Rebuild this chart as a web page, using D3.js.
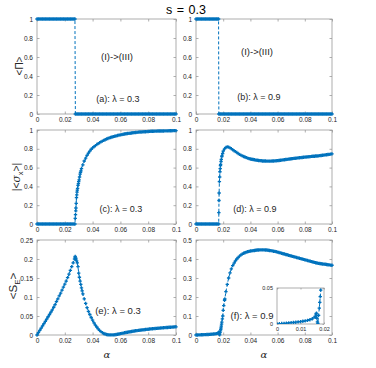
<!DOCTYPE html>
<html>
<head>
<meta charset="utf-8">
<script src="https://cdn.jsdelivr.net/npm/d3@7"></script>
<style>
  body { margin: 0; background: #fff; }
  svg { display: block; }
  text { font-family: "Liberation Sans", Arial, sans-serif; }
</style>
</head>
<body>
<svg id="chart" width="376" height="368"></svg>
<script>
// alpha grid (x values of every series)
const alphaGrid = [
  0, 0.001, 0.002, 0.003, 0.004, 0.005, 0.006, 0.007, 0.008, 0.009,
  0.01, 0.011, 0.012, 0.013, 0.014, 0.015, 0.016, 0.017, 0.018, 0.019,
  0.02, 0.021, 0.022, 0.023, 0.024, 0.025, 0.026, 0.027, 0.028, 0.029,
  0.03, 0.031, 0.032, 0.033, 0.034, 0.035, 0.036, 0.037, 0.038, 0.039,
  0.04, 0.041, 0.042, 0.043, 0.044, 0.045, 0.046, 0.047, 0.048, 0.049,
  0.05, 0.051, 0.052, 0.053, 0.054, 0.055, 0.056, 0.057, 0.058, 0.059,
  0.06, 0.061, 0.062, 0.063, 0.064, 0.065, 0.066, 0.067, 0.068, 0.069,
  0.07, 0.071, 0.072, 0.073, 0.074, 0.075, 0.076, 0.077, 0.078, 0.079,
  0.08, 0.081, 0.082, 0.083, 0.084, 0.085, 0.086, 0.087, 0.088, 0.089,
  0.09, 0.091, 0.092, 0.093, 0.094, 0.095, 0.096, 0.097, 0.098, 0.099,
  0.1
];

// (a) <Pi>, lambda = 0.3
const piL03 = [
  1, 1, 1, 1, 1, 1, 1, 1, 1, 1,
  1, 1, 1, 1, 1, 1, 1, 1, 1, 1,
  1, 1, 1, 1, 1, 1, 1, 1, 0, 0,
  0, 0, 0, 0, 0, 0, 0, 0, 0, 0,
  0, 0, 0, 0, 0, 0, 0, 0, 0, 0,
  0, 0, 0, 0, 0, 0, 0, 0, 0, 0,
  0, 0, 0, 0, 0, 0, 0, 0, 0, 0,
  0, 0, 0, 0, 0, 0, 0, 0, 0, 0,
  0, 0, 0, 0, 0, 0, 0, 0, 0, 0,
  0, 0, 0, 0, 0, 0, 0, 0, 0, 0,
  0
];
const piL03Extra = [[0.0273, 1], [0.0276, 0]];

// (b) <Pi>, lambda = 0.9
const piL09 = [
  1, 1, 1, 1, 1, 1, 1, 1, 1, 1,
  1, 1, 1, 1, 1, 1, 1, 0, 0, 0,
  0, 0, 0, 0, 0, 0, 0, 0, 0, 0,
  0, 0, 0, 0, 0, 0, 0, 0, 0, 0,
  0, 0, 0, 0, 0, 0, 0, 0, 0, 0,
  0, 0, 0, 0, 0, 0, 0, 0, 0, 0,
  0, 0, 0, 0, 0, 0, 0, 0, 0, 0,
  0, 0, 0, 0, 0, 0, 0, 0, 0, 0,
  0, 0, 0, 0, 0, 0, 0, 0, 0, 0,
  0, 0, 0, 0, 0, 0, 0, 0, 0, 0,
  0
];
const piL09Extra = [[0.0166, 1], [0.0168, 0]];

// (c) |<sigma_x>|, lambda = 0.3
const sxL03 = [
  0, 0, 0, 0, 0, 0, 0, 0, 0, 0,
  0, 0, 0, 0, 0, 0, 0, 0, 0, 0,
  0, 0, 0, 0, 0, 0, 0, 0, 0.17, 0.36,
  0.45, 0.53, 0.59, 0.63, 0.67, 0.70, 0.73, 0.755, 0.775, 0.795,
  0.81, 0.822, 0.834, 0.845, 0.855, 0.865, 0.874, 0.882, 0.89, 0.897,
  0.904, 0.91, 0.916, 0.921, 0.926, 0.93, 0.934, 0.938, 0.942, 0.945,
  0.948, 0.951, 0.954, 0.957, 0.96, 0.962, 0.964, 0.966, 0.968, 0.97,
  0.972, 0.974, 0.975, 0.977, 0.978, 0.979, 0.98, 0.981, 0.982, 0.983,
  0.984, 0.985, 0.986, 0.987, 0.987, 0.988, 0.988, 0.989, 0.989, 0.99,
  0.99, 0.99, 0.991, 0.991, 0.991, 0.992, 0.992, 0.992, 0.993, 0.993,
  0.993
];
const sxL03Extra = [
  [0.0273, 0], [0.0275, 0.06], [0.0277, 0.1], [0.0279, 0.14], [0.0282, 0.22],
  [0.0284, 0.28], [0.0286, 0.31], [0.0288, 0.34], [0.0292, 0.38], [0.0295, 0.41],
  [0.0298, 0.43], [0.0303, 0.47], [0.0306, 0.5], [0.0313, 0.55], [0.0316, 0.565]
];

// (d) |<sigma_x>|, lambda = 0.9
const sxL09 = [
  0, 0, 0, 0, 0, 0, 0, 0, 0, 0,
  0, 0, 0, 0, 0, 0, 0, 0.33, 0.62, 0.718,
  0.775, 0.80, 0.815, 0.82, 0.818, 0.81, 0.80, 0.79, 0.78, 0.77,
  0.76, 0.75, 0.741, 0.733, 0.725, 0.718, 0.712, 0.706, 0.701, 0.696,
  0.692, 0.689, 0.686, 0.683, 0.68, 0.678, 0.676, 0.674, 0.673, 0.671,
  0.67, 0.67, 0.669, 0.669, 0.669, 0.669, 0.67, 0.671, 0.672, 0.673,
  0.674, 0.676, 0.678, 0.68, 0.682, 0.684, 0.686, 0.688, 0.69, 0.692,
  0.694, 0.696, 0.698, 0.70, 0.701, 0.703, 0.705, 0.706, 0.708, 0.71,
  0.711, 0.713, 0.714, 0.716, 0.717, 0.719, 0.72, 0.721, 0.723, 0.724,
  0.725, 0.727, 0.729, 0.731, 0.733, 0.735, 0.737, 0.739, 0.741, 0.743,
  0.746
];
const sxL09Extra = [
  [0.0167, 0], [0.0168, 0.12], [0.0169, 0.25], [0.0172, 0.45], [0.0174, 0.5],
  [0.0176, 0.556], [0.0178, 0.59], [0.0181, 0.634], [0.0184, 0.665], [0.0186, 0.687],
  [0.0191, 0.725], [0.0196, 0.75]
];

// (e) <S_E>, lambda = 0.3
const seL03 = [
  0, 0.006, 0.012, 0.018, 0.024, 0.03, 0.036, 0.042, 0.048, 0.054,
  0.06, 0.066, 0.073, 0.08, 0.088, 0.095, 0.103, 0.11, 0.118, 0.126,
  0.134, 0.142, 0.151, 0.16, 0.17, 0.18, 0.19, 0.2, 0.2, 0.19,
  0.163, 0.142, 0.124, 0.108, 0.095, 0.083, 0.072, 0.062, 0.054, 0.046,
  0.039, 0.032, 0.026, 0.021, 0.016, 0.012, 0.009, 0.006, 0.004, 0.0025,
  0.0015, 0.0008, 0.0004, 0.0002, 0.0002, 0.0004, 0.0008, 0.0013, 0.002, 0.0027,
  0.0035, 0.0043, 0.005, 0.0058, 0.0065, 0.0072, 0.0079, 0.0086, 0.0092, 0.0098,
  0.0104, 0.011, 0.0116, 0.0121, 0.0126, 0.0131, 0.0136, 0.014, 0.0145, 0.0149,
  0.0153, 0.0157, 0.0161, 0.0165, 0.0168, 0.0172, 0.0175, 0.0178, 0.0181, 0.0184,
  0.0187, 0.019, 0.0193, 0.0196, 0.0199, 0.0202, 0.0205, 0.0208, 0.021, 0.0213,
  0.0216
];
const seL03Extra = [
  [0.0273, 0.205], [0.0275, 0.207], [0.0278, 0.203], [0.0285, 0.195], [0.0295, 0.18],
  [0.0305, 0.152], [0.0315, 0.133], [0.0325, 0.116]
];

// (f) <S_E>, lambda = 0.9
const seL09 = [
  0, 0.0003, 0.0006, 0.0009, 0.0012, 0.0015, 0.0018, 0.0021, 0.0025, 0.0029,
  0.0033, 0.0038, 0.0044, 0.0051, 0.006, 0.0072, 0.0095, 0.008, 0.022, 0.068,
  0.13, 0.183, 0.228, 0.266, 0.3, 0.327, 0.348, 0.365, 0.378, 0.39,
  0.40, 0.408, 0.415, 0.421, 0.426, 0.43, 0.433, 0.436, 0.438, 0.44,
  0.442, 0.443, 0.444, 0.445, 0.446, 0.447, 0.447, 0.448, 0.448, 0.448,
  0.448, 0.447, 0.447, 0.446, 0.445, 0.444, 0.443, 0.441, 0.44, 0.438,
  0.436, 0.434, 0.432, 0.43, 0.428, 0.426, 0.424, 0.422, 0.42, 0.418,
  0.416, 0.414, 0.412, 0.41, 0.408, 0.406, 0.404, 0.402, 0.40, 0.398,
  0.396, 0.394, 0.392, 0.39, 0.388, 0.386, 0.384, 0.382, 0.38, 0.379,
  0.377, 0.376, 0.375, 0.374, 0.373, 0.372, 0.371, 0.37, 0.369, 0.368,
  0.367
];
const seL09Extra = [
  [0.0163, 0.011], [0.0166, 0.014], [0.0168, 0.015], [0.0172, 0.003], [0.0174, 0.001],
  [0.0177, 0.012], [0.0182, 0.03], [0.0184, 0.038], [0.0186, 0.047], [0.0188, 0.057],
  [0.0194, 0.085], [0.0197, 0.1], [0.0204, 0.155], [0.0212, 0.19]
];

// ticks
const xTicks = [0, 0.02, 0.04, 0.06, 0.08, 0.1];
const xTickLabels = ['0', '0.02', '0.04', '0.06', '0.08', '0.1'];
const unitTicks = [0, 0.2, 0.4, 0.6, 0.8, 1];
const unitTickLabels = ['0', '0.2', '0.4', '0.6', '0.8', '1'];
const seTicksA = [0, 0.05, 0.1, 0.15, 0.2, 0.25];
const seTickLabelsA = ['0', '0.05', '0.1', '0.15', '0.2', '0.25'];
const seTicksB = [0, 0.1, 0.2, 0.3, 0.4, 0.5];
const seTickLabelsB = ['0', '0.1', '0.2', '0.3', '0.4', '0.5'];
const insetXTicks = [0, 0.01, 0.02];
const insetXTickLabels = ['0', '0.01', '0.02'];
const insetYTicks = [0, 0.05];
const insetYTickLabels = ['0', '0.05'];

const blue = '#0072BD';
const axisColor = '#9a9a9a';
const textColor = '#262626';
const svg = d3.select('#chart');

function mergeSeries(values, extra) {
  const pts = alphaGrid.map((a, i) => [a, values[i]]).concat(extra);
  pts.sort((p, q) => p[0] - q[0]);
  return pts;
}

function styleAxis(g, fontSize) {
  g.select('.domain').remove();
  g.selectAll('.tick line').attr('stroke', axisColor).attr('stroke-width', 0.8);
  g.selectAll('.tick text').attr('fill', textColor).style('font-size', fontSize + 'px');
}

function drawPanel(p) {
  const x = d3.scaleLinear().domain(p.xDomain).range([p.left, p.right]);
  const y = d3.scaleLinear().domain(p.yDomain).range([p.bottom, p.top]);
  const g = svg.append('g');
  const fs = p.tickFont || 6.5;
  const tl = p.tickLen || 2.5;

  if (p.fill) {
    g.append('rect')
        .attr('x', p.left).attr('y', p.top)
        .attr('width', p.right - p.left).attr('height', p.bottom - p.top)
        .attr('fill', '#fff');
  }

  g.append('g')
      .attr('transform', `translate(0,${p.bottom})`)
      .call(d3.axisBottom(x).tickValues(p.xTicks).tickSize(-tl).tickPadding(3.5)
          .tickFormat((d, i) => p.xTickLabels[i]))
      .call(a => styleAxis(a, fs));
  g.append('g')
      .attr('transform', `translate(0,${p.top})`)
      .call(d3.axisTop(x).tickValues(p.xTicks).tickSize(-tl).tickFormat(''))
      .call(a => styleAxis(a, fs));
  g.append('g')
      .attr('transform', `translate(${p.left},0)`)
      .call(d3.axisLeft(y).tickValues(p.yTicks).tickSize(-tl).tickPadding(4)
          .tickFormat((d, i) => p.yTickLabels[i]))
      .call(a => styleAxis(a, fs));
  g.append('g')
      .attr('transform', `translate(${p.right},0)`)
      .call(d3.axisRight(y).tickValues(p.yTicks).tickSize(-tl).tickFormat(''))
      .call(a => styleAxis(a, fs));

  g.append('rect')
      .attr('x', p.left).attr('y', p.top)
      .attr('width', p.right - p.left).attr('height', p.bottom - p.top)
      .attr('fill', 'none').attr('stroke', axisColor).attr('stroke-width', 0.8);

  const plot = g.append('g');
  if (p.clipId) {
    svg.append('clipPath').attr('id', p.clipId)
        .append('rect')
        .attr('x', p.left).attr('y', p.top)
        .attr('width', p.right - p.left).attr('height', p.bottom - p.top);
    plot.attr('clip-path', `url(#${p.clipId})`);
  }

  const pts = mergeSeries(p.values, p.extra);
  plot.append('path')
      .datum(pts)
      .attr('fill', 'none')
      .attr('stroke', blue)
      .attr('stroke-width', 1)
      .attr('stroke-dasharray', '3,2')
      .attr('d', d3.line().x(d => x(d[0])).y(d => y(d[1])));

  // '+' markers
  const m = p.markSize || 1.7;
  plot.append('path')
      .attr('fill', 'none')
      .attr('stroke', blue)
      .attr('stroke-width', 1.3)
      .attr('d', pts.map(d => {
        const px = x(d[0]), py = y(d[1]);
        return `M${px - m},${py}h${2 * m}M${px},${py - m}v${2 * m}`;
      }).join(''));

  (p.notes || []).forEach(n => {
    g.append('text')
        .attr('x', n.x).attr('y', n.y)
        .attr('text-anchor', 'middle')
        .attr('fill', textColor)
        .style('font-size', n.size + 'px')
        .text(n.text);
  });
}

const leftCol = {left: 37, right: 176};
const rightCol = {left: 196, right: 332};
const rows = [{top: 19, bottom: 114}, {top: 130, bottom: 224}, {top: 240, bottom: 335}];
const common = {xDomain: [0, 0.1], xTicks: xTicks, xTickLabels: xTickLabels};

drawPanel({...common, ...leftCol, ...rows[0], yDomain: [0, 1], yTicks: unitTicks, yTickLabels: unitTickLabels,
  values: piL03, extra: piL03Extra,
  notes: [{text: '(I)->(III)', x: 117, y: 60, size: 9.5}, {text: '(a): λ = 0.3', x: 118, y: 102, size: 9}]});
drawPanel({...common, ...rightCol, ...rows[0], yDomain: [0, 1], yTicks: unitTicks, yTickLabels: unitTickLabels,
  values: piL09, extra: piL09Extra,
  notes: [{text: '(I)->(III)', x: 257, y: 55, size: 9.5}, {text: '(b): λ = 0.9', x: 259, y: 100, size: 9}]});
drawPanel({...common, ...leftCol, ...rows[1], yDomain: [0, 1], yTicks: unitTicks, yTickLabels: unitTickLabels,
  values: sxL03, extra: sxL03Extra,
  notes: [{text: '(c): λ = 0.3', x: 121, y: 212, size: 9}]});
drawPanel({...common, ...rightCol, ...rows[1], yDomain: [0, 1], yTicks: unitTicks, yTickLabels: unitTickLabels,
  values: sxL09, extra: sxL09Extra,
  notes: [{text: '(d): λ = 0.9', x: 255, y: 212, size: 9}]});
drawPanel({...common, ...leftCol, ...rows[2], yDomain: [0, 0.25], yTicks: seTicksA, yTickLabels: seTickLabelsA,
  values: seL03, extra: seL03Extra,
  notes: [{text: '(e): λ = 0.3', x: 118, y: 314, size: 9.5}]});
drawPanel({...common, ...rightCol, ...rows[2], yDomain: [0, 0.5], yTicks: seTicksB, yTickLabels: seTickLabelsB,
  values: seL09, extra: seL09Extra,
  notes: [{text: '(f): λ = 0.9', x: 252, y: 319, size: 9.5}]});

// inset of (f)
drawPanel({left: 277, right: 324, top: 288, bottom: 324, fill: true, clipId: 'insetClip',
  xDomain: [0, 0.02], xTicks: insetXTicks, xTickLabels: insetXTickLabels,
  yDomain: [0, 0.05], yTicks: insetYTicks, yTickLabels: insetYTickLabels,
  tickFont: 5.5, tickLen: 1.5, values: seL09, extra: seL09Extra});

// title
svg.append('text')
    .attr('x', 186).attr('y', 13.5)
    .attr('text-anchor', 'middle')
    .attr('fill', '#000')
    .style('font-size', '12.5px')
    .style('word-spacing', '1px')
    .text('s = 0.3');

// y axis labels
function yLabel(cx, cy, size, build) {
  const t = svg.append('text')
      .attr('transform', `translate(${cx},${cy}) rotate(-90)`)
      .attr('text-anchor', 'middle')
      .attr('fill', textColor)
      .style('font-size', size + 'px');
  build(t);
}
yLabel(23, 66, 10, t => t.text('<Π>'));
yLabel(20, 177, 10.5, t => {
  t.append('tspan').text('|<');
  t.append('tspan').style('font-style', 'italic').style('font-family', '"DejaVu Serif", serif').text('σ');
  t.append('tspan').attr('dy', 3).style('font-size', '7.5px').text('x');
  t.append('tspan').attr('dy', -3).text('>|');
});
yLabel(17, 286, 11.5, t => {
  t.append('tspan').text('<S');
  t.append('tspan').attr('dy', 3).style('font-size', '8px').text('E');
  t.append('tspan').attr('dy', -3).text('>');
});

// x axis labels
[107, 264].forEach(cx => {
  svg.append('text')
      .attr('x', cx).attr('y', 358)
      .attr('text-anchor', 'middle')
      .attr('fill', textColor)
      .style('font-size', '10px')
      .style('font-style', 'italic')
      .style('font-family', '"DejaVu Serif", serif')
      .text('α');
});
</script>
</body>
</html>
